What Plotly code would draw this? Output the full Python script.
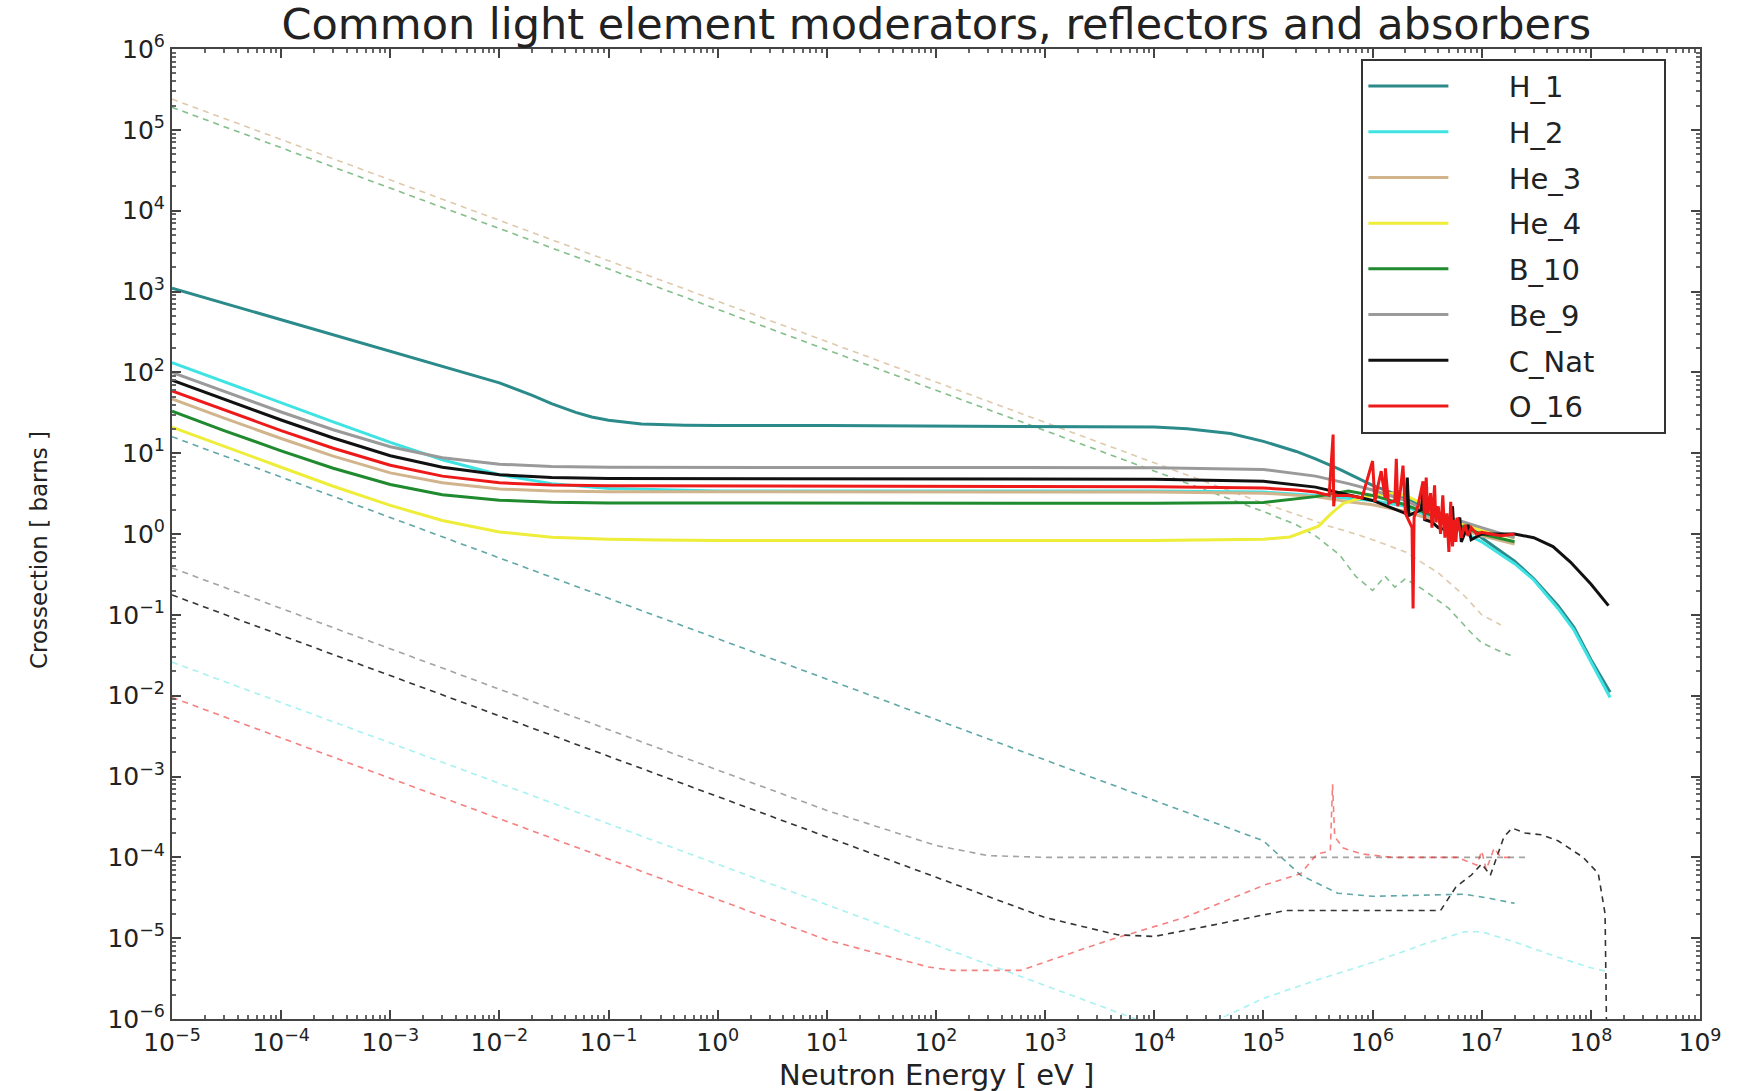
import plotly.graph_objects as go

# ---------------- axis tick labels ----------------
x_exponents = list(range(-5, 10))
y_exponents = list(range(-6, 7))
x_tick_labels = ["10<sup>" + str(e).replace("-", "\u2212") + "</sup>" for e in x_exponents]
y_tick_labels = ["10<sup>" + str(e).replace("-", "\u2212") + "</sup>" for e in y_exponents]

title_text = "Common light element moderators, reflectors and absorbers"
x_label = "Neutron Energy [ eV ]"
y_label = "Crossection [ barns ]"

# ---------------- elastic (solid) curves ----------------
LOW_E = [1e-5, 3e-5, 1e-4, 3e-4, 1e-3, 3e-3, 1e-2, 3e-2, 1e-1]

H1_E = [1e-5, 3e-5, 1e-4, 3e-4, 1e-3, 3e-3, 1e-2, 2e-2, 3e-2, 5e-2, 7e-2, 1e-1, 2e-1, 5e-1, 1, 1e1,
        1e2, 1e3, 1e4, 2e4, 5e4, 1e5, 2e5, 3e5, 5e5, 1e6, 2e6, 5e6, 1e7, 2e7, 3e7, 5e7, 7e7,
        1e8, 1.5e8]
H1_el = [1100, 716, 448, 292, 182, 119, 74, 52, 41, 32, 28, 25.5, 23, 22.2, 22, 22,
         21.8, 21.5, 21, 20, 17.5, 14, 10.5, 8.5, 6.3, 4.0, 2.8, 1.6, 0.9, 0.46, 0.28, 0.13, 0.07,
         0.028, 0.011]

H2_E = LOW_E + [1, 1e4, 1e5, 3e5, 1e6, 2e6, 5e6, 1e7, 2e7, 3e7, 5e7, 7e7, 1e8, 1.5e8]
H2_el = [132, 76, 42, 24.4, 13.6, 8.3, 5.4, 4.2, 3.65, 3.4, 3.4, 3.3, 3.0, 2.6, 2.2, 1.3, 0.8,
         0.43, 0.27, 0.12, 0.065, 0.026, 0.0095]

He3_E = LOW_E + [1e4, 1e5, 3e5, 6e5, 1e6, 2e6, 5e6, 1e7, 2e7]
He3_el = [47, 27.1, 15.2, 9.2, 5.7, 4.3, 3.6, 3.4, 3.33, 3.3, 3.2, 2.9, 2.5, 2.3, 1.9, 1.3, 0.95, 0.75]

He4_E = LOW_E + [3e-1, 1, 1e4, 1e5, 1.75e5, 3.2e5, 4.2e5, 5.4e5, 7.2e5, 1e6, 1.5e6, 2e6, 3e6,
                 5e6, 7e6, 1e7, 2e7]
He4_el = [21, 12.1, 6.7, 3.9, 2.26, 1.47, 1.06, 0.91, 0.86, 0.84, 0.83, 0.83, 0.86, 0.92, 1.25,
          1.8, 2.4, 2.7, 3.0, 3.2, 3.0, 2.3, 1.6, 1.3, 1.1, 0.9]

B10_E = LOW_E + [1e4, 1e5, 3e5, 6e5, 1e6, 2e6, 5e6, 1e7, 2e7]
B10_el = [33, 19, 10.7, 6.5, 4.1, 3.06, 2.62, 2.47, 2.42, 2.4, 2.45, 2.9, 3.4, 3.0, 2.3, 1.4, 1.0, 0.8]

Be9_E = LOW_E + [1e4, 1e5, 3e5, 6e5, 1e6, 2e6, 3e6, 5e6, 1e7, 2e7]
Be9_el = [100, 57.7, 32.3, 19.5, 12.0, 8.8, 7.3, 6.85, 6.7, 6.6, 6.3, 5.2, 4.2, 3.5, 2.6, 2.0,
          1.6, 1.2, 0.9]

CNat_E = LOW_E + [1e4, 1e5, 3e5, 1e6, 2.0e6, 2.08e6, 2.15e6, 2.8e6, 2.9e6, 3.0e6, 3.5e6, 4e6,
                  5e6, 5.4e6, 5.6e6, 6.3e6, 6.5e6, 7.5e6, 8e6, 1e7, 2e7, 3e7, 4.5e7, 6.5e7, 1e8,
                  1.45e8]
CNat_el = [80, 46.2, 25.7, 15.4, 9.3, 6.7, 5.4, 5.0, 4.87, 4.75, 4.5, 3.8, 2.6, 1.8, 5.0, 1.7,
           2.0, 3.5, 1.5, 1.4, 1.2, 1.1, 2.2, 0.9, 1.6, 0.8, 1.3, 0.85, 1.0, 1.0, 0.9, 0.7, 0.45,
           0.24, 0.13]

O16_E = LOW_E + [1e4, 1e5, 2e5, 3e5, 4e5, 4.3e5, 4.35e5, 4.4e5, 4.5e5, 6e5, 8e5, 1.0e6, 1.05e6,
                 1.1e6, 1.2e6, 1.3e6, 1.31e6, 1.4e6, 1.6e6, 1.65e6, 1.7e6, 1.8e6, 1.9e6, 2.0e6,
                 2.3e6, 2.35e6, 2.4e6, 2.6e6, 2.9e6, 3.0e6, 3.1e6, 3.2e6, 3.4e6, 3.5e6, 3.7e6,
                 3.8e6, 4.0e6, 4.2e6, 4.4e6, 4.6e6, 4.8e6, 5.0e6, 5.2e6, 5.4e6, 5.6e6, 5.8e6,
                 6.0e6, 6.5e6, 7e6, 7.5e6, 8e6, 9e6, 1e7, 1.2e7, 1.5e7, 2e7]
O16_el = [59, 34.1, 19.0, 11.5, 7.1, 5.2, 4.3, 4.05, 3.94, 3.85, 3.7, 3.5, 3.3, 3.0, 14, 17, 2.2,
          3.0, 3.0, 2.8, 8.0, 2.5, 3.5, 6.0, 2.8, 6.5, 2.4, 2.6, 8.5,
          2.2, 3.5, 7.0, 1.8, 1.2, 0.12, 1.6, 2.2, 4.5, 1.5, 5.0, 1.8,
          3.2, 1.2, 4.0, 1.4, 2.2, 1.0, 3.0, 0.9, 1.8, 0.6, 2.5, 0.7,
          1.5, 0.8, 1.6, 0.9, 1.3, 0.95, 1.2, 1.0, 1.05, 1.0, 0.95, 1.0]

# ---------------- absorption (dashed) curves ----------------
H1_abs_E = [1e-5, 1e5, 2.2e5, 4.8e5, 1e6, 3e6, 7e6, 1.2e7, 2e7]
H1_abs = [16, 1.6e-4, 6e-5, 3.6e-5, 3.3e-5, 3.4e-5, 3.5e-5, 3.1e-5, 2.7e-5]

H2_abs_E = [1e-5, 1e3, 1e4, 2e4, 4e4, 1e5, 3e5, 1e6, 3e6, 7e6, 1e7, 2e7, 5e7, 1e8, 1.5e8]
H2_abs = [0.026, 2.6e-6, 8.2e-7, 6.5e-7, 1.0e-6, 1.8e-6, 3e-6, 5e-6, 8.5e-6, 1.2e-5, 1.2e-5,
          9e-6, 5.8e-6, 4.3e-6, 3.8e-6]

He3_abs_E = [1e-5, 1e5, 2e5, 4e5, 7e5, 1e6, 2e6, 4e6, 7e6, 1e7, 1.5e7]
He3_abs = [2.4e5, 2.4, 1.75, 1.25, 1.0, 0.85, 0.6, 0.33, 0.17, 0.1, 0.075]

B10_abs_E = [1e-5, 1e5, 2e5, 3e5, 5e5, 7e5, 1e6, 1.3e6, 1.6e6, 2e6, 3e6, 5e6, 8e6, 1e7, 1.5e7, 2e7]
B10_abs = [1.9e5, 1.9, 1.3, 0.95, 0.55, 0.3, 0.2, 0.3, 0.22, 0.28, 0.2, 0.12, 0.06, 0.045, 0.035, 0.03]

Be9_abs_E = [1e-5, 1e1, 1e2, 3e2, 1e3, 1e4, 1e5, 1e6, 1e7, 2.5e7]
Be9_abs = [0.38, 3.8e-4, 1.4e-4, 1.05e-4, 1.0e-4, 1.0e-4, 1.0e-4, 1.0e-4, 1.0e-4, 1.0e-4]

CNat_abs_E = [1e-5, 1e1, 1e3, 4.6e3, 1e4, 3e4, 1.6e5, 1e6, 4.2e6, 5.8e6, 8e6, 1e7, 1.2e7, 1.6e7,
              1.9e7, 2.5e7, 3.5e7, 5e7, 8.5e7, 1.17e8, 1.35e8, 1.45e8]
CNat_abs = [0.176, 1.76e-4, 1.8e-5, 1.1e-5, 1.05e-5, 1.4e-5, 2.2e-5, 2.2e-5, 2.2e-5, 4.3e-5,
            6e-5, 8.3e-5, 6e-5, 1.8e-4, 2.3e-4, 2.0e-4, 1.9e-4, 1.6e-4, 1.0e-4, 6.3e-5, 2e-5, 1e-8]

O16_abs_E = [1e-5, 1e1, 8.5e1, 1.4e2, 6e2, 3.7e3, 1.9e4, 1e5, 2.2e5, 3.1e5, 4.1e5, 4.3e5, 4.5e5,
             5.4e5, 8e5, 1.5e6, 3e6, 6e6, 9e6, 1e7, 1.1e7, 1.3e7, 1.5e7, 2e7]
O16_abs = [0.0095, 9.5e-6, 4.4e-6, 4e-6, 4e-6, 9.3e-6, 1.8e-5, 4.5e-5, 6.3e-5, 1.1e-4, 1.2e-4,
           8e-4, 1.8e-4, 1.3e-4, 1.1e-4, 1.0e-4, 1.0e-4, 1.0e-4, 8e-5, 1.2e-4, 7e-5, 1.3e-4,
           1e-4, 1e-4]

names = ["H_1", "H_2", "He_3", "He_4", "B_10", "Be_9", "C_Nat", "O_16"]
colors = {"H_1": "#2b8a8a", "H_2": "#3fe3e3", "He_3": "#d2b48c", "He_4": "#eded3a",
          "B_10": "#1f8a2e", "Be_9": "#9a9a9a", "C_Nat": "#111111", "O_16": "#ee1a1a"}

elastic = {"H_1": (H1_E, H1_el), "H_2": (H2_E, H2_el), "He_3": (He3_E, He3_el),
           "He_4": (He4_E, He4_el), "B_10": (B10_E, B10_el), "Be_9": (Be9_E, Be9_el),
           "C_Nat": (CNat_E, CNat_el), "O_16": (O16_E, O16_el)}
absorption = {"H_1": (H1_abs_E, H1_abs), "H_2": (H2_abs_E, H2_abs), "He_3": (He3_abs_E, He3_abs),
              "B_10": (B10_abs_E, B10_abs), "Be_9": (Be9_abs_E, Be9_abs),
              "C_Nat": (CNat_abs_E, CNat_abs), "O_16": (O16_abs_E, O16_abs)}
abs_opacity = {"H_1": 0.75, "H_2": 0.45, "He_3": 0.7, "B_10": 0.55, "Be_9": 0.9,
               "C_Nat": 0.85, "O_16": 0.55}

fig = go.Figure()

for n in names:
    if n in absorption:
        e, s = absorption[n]
        fig.add_trace(go.Scatter(x=e, y=s, mode="lines", showlegend=False,
                                 opacity=abs_opacity[n], hoverinfo="skip",
                                 line=dict(color=colors[n], width=1.6, dash="6px,5px")))

lead_pad = "\u00a0" * 6
tail_pad = "\u00a0" * 7
for n in names:
    e, s = elastic[n]
    fig.add_trace(go.Scatter(x=e, y=s, mode="lines", name=lead_pad + n + tail_pad, legendgroup=n,
                             line=dict(color=colors[n], width=3.0)))

minor_x = [m * 10.0 ** k for k in range(-5, 9) for m in range(2, 10)]
minor_y = [m * 10.0 ** k for k in range(-6, 6) for m in range(2, 10)]

axis_common = dict(showline=True, linecolor="#444", linewidth=2, mirror="allticks",
                   ticks="inside", ticklen=9, tickwidth=1.5, tickcolor="#444",
                   showgrid=False, zeroline=False, type="log",
                   tickfont=dict(family="DejaVu Sans", size=25, color="#222"))

fig.update_xaxes(range=[-5, 9], tickmode="array", tickvals=[10.0 ** e for e in x_exponents],
                 ticktext=x_tick_labels,
                 minor=dict(ticks="inside", ticklen=4, tickcolor="#666", tickvals=minor_x),
                 **axis_common)
fig.update_yaxes(range=[-6, 6], tickmode="array", tickvals=[10.0 ** e for e in y_exponents],
                 ticktext=y_tick_labels,
                 minor=dict(ticks="inside", ticklen=4, tickcolor="#666", tickvals=minor_y),
                 **axis_common)

fig.update_layout(
    width=1742, height=1091,
    margin=dict(l=172, r=42, t=49, b=72, autoexpand=False),
    paper_bgcolor="white", plot_bgcolor="white",
    title=dict(text=title_text, x=0.5375, xanchor="center", y=0.978, yanchor="middle",
               font=dict(family="DejaVu Sans", size=43, color="#222")),
    legend=dict(x=0.978, y=0.99, xanchor="right", yanchor="top",
                bordercolor="#333", borderwidth=2, bgcolor="white",
                font=dict(family="DejaVu Sans", size=29, color="#222"),
                traceorder="grouped", tracegroupgap=5, itemwidth=80),
    showlegend=True,
    annotations=[
        dict(text=x_label, xref="paper", yref="paper", x=0.5, y=-0.0577,
             xanchor="center", yanchor="middle", showarrow=False,
             font=dict(family="DejaVu Sans", size=29, color="#222")),
        dict(text=y_label, xref="paper", yref="paper", x=-0.087, y=0.4835,
             xanchor="center", yanchor="middle", showarrow=False, textangle=-90,
             font=dict(family="DejaVu Sans", size=23, color="#222")),
    ],
)

fig.write_html("out.html")
